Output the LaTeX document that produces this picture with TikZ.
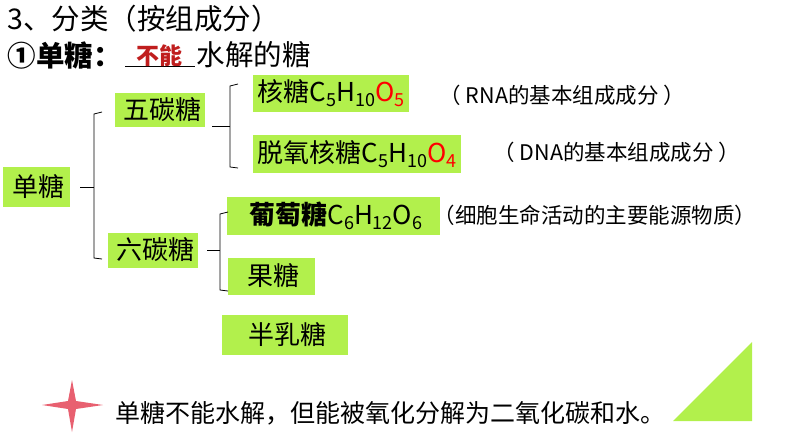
\documentclass[tikz,border=0pt]{standalone}
\usepackage{fontspec}
\setmainfont{Noto Sans CJK SC}
\definecolor{lg}{RGB}{178,240,76}
\definecolor{rd}{RGB}{192,30,30}
\definecolor{st}{RGB}{232,96,112}
\newcommand{\sbx}[1]{\raisebox{-0.35ex}{\fontsize{18}{19}\selectfont #1}}
\begin{document}
\begin{tikzpicture}[x=1pt,y=-1pt,
  gbox/.style={fill=lg,inner sep=0pt,anchor=west,align=left,font=\fontsize{26}{28}\selectfont},
  br/.style={draw=black,line width=0.8pt},
  note/.style={anchor=west,font=\fontsize{21.5}{23}\selectfont}]
\useasboundingbox (0,0) rectangle (794,447);
\node[anchor=west,font=\fontsize{28.5}{30}\selectfont] (t) at (4,19) {3、分类（按组成分）};
\node[anchor=west,font=\fontsize{28.5}{30}\selectfont\bfseries] (t2) at (4,55) {①单糖：};
\draw[br] (125,66) -- (195,66);
\node[anchor=west,font=\fontsize{23}{26}\selectfont\bfseries,text=rd] (bn) at (133,56) {不能};
\node[anchor=west,font=\fontsize{28.5}{30}\selectfont] (t3) at (193,55) {水解的糖};
\node[gbox,minimum width=67pt,minimum height=40pt] (ds) at (3,187) {\,单糖};
\node[gbox,minimum width=90pt,minimum height=34pt] (wt) at (115,110) {\,五碳糖};
\node[gbox,minimum width=90pt,minimum height=35pt] (lt) at (108,250) {\,六碳糖};
\node[gbox,minimum width=102pt,minimum height=37pt] (ht) at (253,93) {\,核糖C\sbx{5}H\sbx{10}\textcolor{red}{O\sbx{5}}\,};
\node[gbox,minimum height=38pt] (tt) at (253,154) {\,脱氧核糖C\sbx{5}H\sbx{10}\textcolor{red}{O\sbx{4}}\,};
\node[gbox,minimum width=213pt,minimum height=38pt] (pt) at (227,216) {\,\textbf{葡萄糖}C\sbx{6}H\sbx{12}O\sbx{6}};
\node[gbox,minimum width=87pt,minimum height=37pt] (gt) at (228,276) {\,果糖};
\node[gbox,minimum width=126pt,minimum height=40pt] (bt) at (222,335) {\,半乳糖};
\node[note] (n1) at (436,95) {（ RNA的基本组成成分 ）};
\node[note] (n2) at (490,152) {（ DNA的基本组成成分 ）};
\node[note] (n3) at (430,215) {（细胞生命活动的主要能源物质）};
\draw[br] (102,112) -- (94,114) -- (94,258) -- (102,259);
\draw[br] (80,187) -- (94,187);
\draw[br] (238,84) -- (230,86) -- (230,167) -- (238,168);
\draw[br] (212,126) -- (230,126);
\draw[br] (228,212) -- (220,214) -- (220,290) -- (228,291);
\draw[br] (207,250) -- (220,250);
\fill[st] (42,405) -- (68,401) -- (72,380) -- (76,401) -- (103,405) -- (76,409) -- (72,432) -- (68,409) -- cycle;
\node[anchor=west,font=\fontsize{25}{27}\selectfont] (bt2) at (112,413) {单糖不能水解，但能被氧化分解为二氧化碳和水。};
\fill[lg] (673,421) -- (752,421) -- (752,342) -- cycle;
\end{tikzpicture}
\end{document}
